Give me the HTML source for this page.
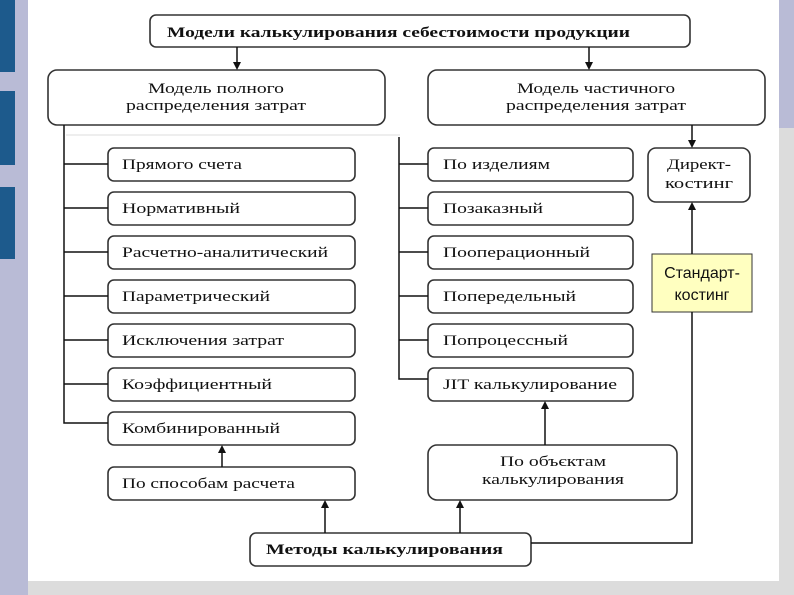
<!DOCTYPE html>
<html><head><meta charset="utf-8"><style>
html,body{margin:0;padding:0;width:794px;height:595px;overflow:hidden;background:#dcdcdc}
svg{display:block}
text{font-family:"Liberation Serif",serif;fill:#111}
</style></head><body>
<svg width="794" height="595" viewBox="0 0 794 595" xmlns="http://www.w3.org/2000/svg">
<defs><marker id="a" markerWidth="8" markerHeight="8" refX="4" refY="4" orient="auto" markerUnits="userSpaceOnUse"><path d="M0,0 L8,4 L0,8 z" fill="#111"/></marker></defs>
<rect x="0" y="0" width="794" height="595" fill="#dcdcdc"/>
<rect x="0" y="0" width="28" height="595" fill="#b9bbd6"/>
<rect x="0" y="0" width="15" height="72" fill="#1d5a8c"/>
<rect x="0" y="91" width="15" height="74" fill="#1d5a8c"/>
<rect x="0" y="187" width="15" height="72" fill="#1d5a8c"/>
<rect x="779" y="0" width="15" height="128" fill="#b9bbd6"/>
<rect x="28" y="0" width="751" height="581" fill="#fff"/>
<g fill="#fff" stroke="#333" stroke-width="1.6">
<rect x="150" y="15" width="540" height="32" rx="6"/>
<rect x="48" y="70" width="337" height="55" rx="9"/>
<rect x="428" y="70" width="337" height="55" rx="9"/>
<rect x="108" y="148" width="247" height="33" rx="6"/>
<rect x="108" y="192" width="247" height="33" rx="6"/>
<rect x="108" y="236" width="247" height="33" rx="6"/>
<rect x="108" y="280" width="247" height="33" rx="6"/>
<rect x="108" y="324" width="247" height="33" rx="6"/>
<rect x="108" y="368" width="247" height="33" rx="6"/>
<rect x="108" y="412" width="247" height="33" rx="6"/>
<rect x="108" y="467" width="247" height="33" rx="6"/>
<rect x="428" y="148" width="205" height="33" rx="6"/>
<rect x="428" y="192" width="205" height="33" rx="6"/>
<rect x="428" y="236" width="205" height="33" rx="6"/>
<rect x="428" y="280" width="205" height="33" rx="6"/>
<rect x="428" y="324" width="205" height="33" rx="6"/>
<rect x="428" y="368" width="205" height="33" rx="6"/>
<rect x="648" y="148" width="102" height="54" rx="8"/>
<rect x="428" y="445" width="249" height="55" rx="9"/>
<rect x="250" y="533" width="281" height="33" rx="6"/>
</g>
<rect x="652" y="254" width="100" height="58" fill="#ffffc0" stroke="#333" stroke-width="1"/>
<g stroke="#111" stroke-width="1.5" fill="none">
<line x1="237" y1="47" x2="237" y2="66" marker-end="url(#a)"/>
<line x1="589" y1="47" x2="589" y2="66" marker-end="url(#a)"/>
<line x1="692" y1="125" x2="692" y2="144" marker-end="url(#a)"/>
<polyline points="64,125 64,423 108,423"/>
<line x1="64" y1="164" x2="108" y2="164"/><line x1="64" y1="208" x2="108" y2="208"/>
<line x1="64" y1="252" x2="108" y2="252"/><line x1="64" y1="296" x2="108" y2="296"/>
<line x1="64" y1="340" x2="108" y2="340"/><line x1="64" y1="384" x2="108" y2="384"/>
<polyline points="399,137 399,379 428,379"/>
<line x1="399" y1="164" x2="428" y2="164"/><line x1="399" y1="208" x2="428" y2="208"/>
<line x1="399" y1="252" x2="428" y2="252"/><line x1="399" y1="296" x2="428" y2="296"/>
<line x1="399" y1="340" x2="428" y2="340"/>
<line x1="222" y1="467" x2="222" y2="449" marker-end="url(#a)"/>
<line x1="545" y1="445" x2="545" y2="405" marker-end="url(#a)"/>
<line x1="325" y1="533" x2="325" y2="504" marker-end="url(#a)"/>
<line x1="460" y1="533" x2="460" y2="504" marker-end="url(#a)"/>
<polyline points="531,543 692,543 692,312"/>
<line x1="692" y1="254" x2="692" y2="206" marker-end="url(#a)"/>
</g>
<line x1="66" y1="135" x2="400" y2="135" stroke="#ddd" stroke-width="1"/>
<text x="167" y="37" font-size="15" font-weight="bold" textLength="463" lengthAdjust="spacingAndGlyphs">Модели калькулирования себестоимости продукции</text>
<text x="216" y="93" font-size="15" text-anchor="middle" textLength="136" lengthAdjust="spacingAndGlyphs">Модель полного</text>
<text x="216" y="110" font-size="15" text-anchor="middle" textLength="180" lengthAdjust="spacingAndGlyphs">распределения затрат</text>
<text x="596" y="93" font-size="15" text-anchor="middle" textLength="158" lengthAdjust="spacingAndGlyphs">Модель частичного</text>
<text x="596" y="110" font-size="15" text-anchor="middle" textLength="180" lengthAdjust="spacingAndGlyphs">распределения затрат</text>
<g font-size="15">
<text x="122" y="169" textLength="120" lengthAdjust="spacingAndGlyphs">Прямого счета</text>
<text x="122" y="213" textLength="118" lengthAdjust="spacingAndGlyphs">Нормативный</text>
<text x="122" y="257" textLength="206" lengthAdjust="spacingAndGlyphs">Расчетно-аналитический</text>
<text x="122" y="301" textLength="148" lengthAdjust="spacingAndGlyphs">Параметрический</text>
<text x="122" y="345" textLength="162" lengthAdjust="spacingAndGlyphs">Исключения затрат</text>
<text x="122" y="389" textLength="150" lengthAdjust="spacingAndGlyphs">Коэффициентный</text>
<text x="122" y="433" textLength="158" lengthAdjust="spacingAndGlyphs">Комбинированный</text>
<text x="122" y="488" textLength="173" lengthAdjust="spacingAndGlyphs">По способам расчета</text>
<text x="443" y="169" textLength="107" lengthAdjust="spacingAndGlyphs">По изделиям</text>
<text x="443" y="213" textLength="100" lengthAdjust="spacingAndGlyphs">Позаказный</text>
<text x="443" y="257" textLength="147" lengthAdjust="spacingAndGlyphs">Пооперационный</text>
<text x="443" y="301" textLength="133" lengthAdjust="spacingAndGlyphs">Попередельный</text>
<text x="443" y="345" textLength="125" lengthAdjust="spacingAndGlyphs">Попроцессный</text>
<text x="443" y="389" textLength="174" lengthAdjust="spacingAndGlyphs">JIT калькулирование</text>
<text x="699" y="169" text-anchor="middle" textLength="64" lengthAdjust="spacingAndGlyphs">Директ-</text>
<text x="699" y="188" text-anchor="middle" textLength="68" lengthAdjust="spacingAndGlyphs">костинг</text>
<text x="553" y="466" text-anchor="middle" textLength="106" lengthAdjust="spacingAndGlyphs">По объєктам</text>
<text x="553" y="484" text-anchor="middle" textLength="142" lengthAdjust="spacingAndGlyphs">калькулирования</text>
</g>
<text x="266" y="554" font-size="15" font-weight="bold" textLength="237" lengthAdjust="spacingAndGlyphs">Методы калькулирования</text>
<text x="702" y="278" font-size="16" text-anchor="middle" style="font-family:'Liberation Sans',sans-serif">Стандарт-</text>
<text x="702" y="300" font-size="16" text-anchor="middle" style="font-family:'Liberation Sans',sans-serif">костинг</text>
</svg>
</body></html>
